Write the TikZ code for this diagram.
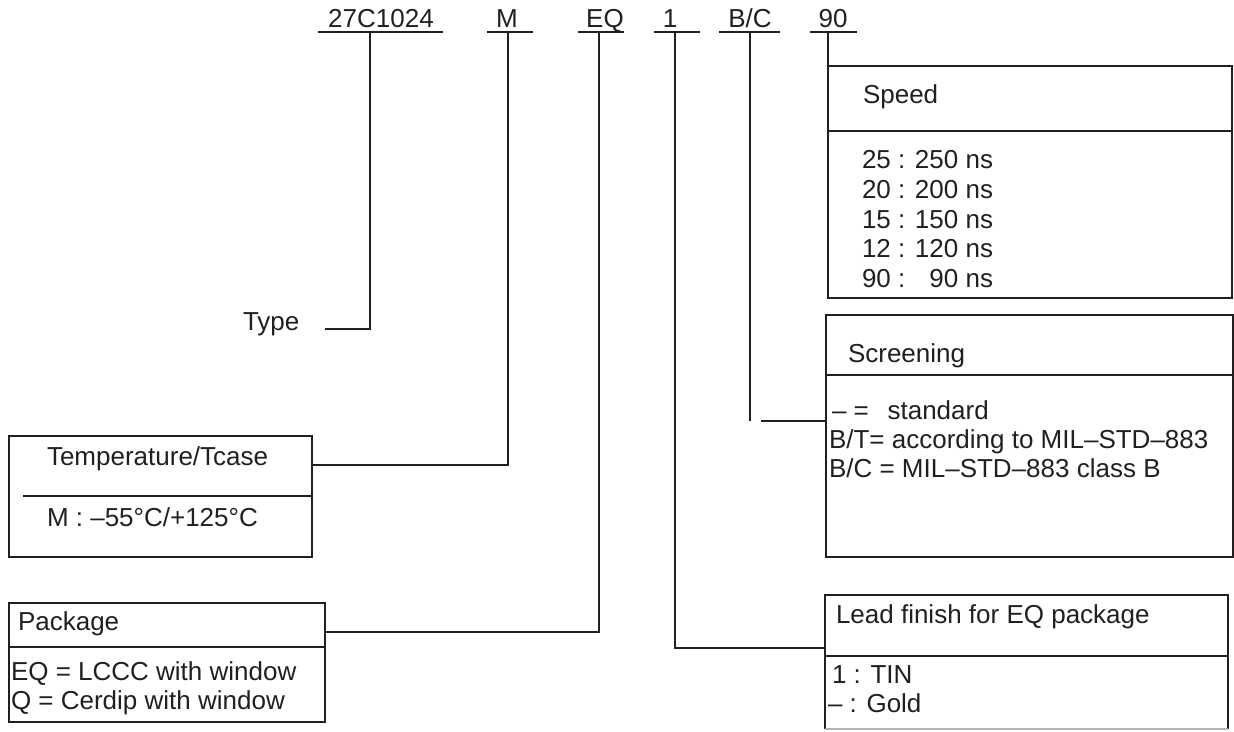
\documentclass[tikz,border=0pt]{standalone}
\usepackage{fontspec}
\setmainfont{Liberation Sans}
\definecolor{ink}{HTML}{231F20}
\tikzset{
  txt/.style={inner sep=0pt, outer sep=0pt, anchor=base west, text=ink, font=\fontsize{26}{30}\selectfont},
  lbl/.style={inner sep=0pt, outer sep=0pt, anchor=base, text=ink, font=\fontsize{26}{30}\selectfont},
  box/.style={draw=ink, line width=1.8pt, inner sep=0pt, outer sep=0pt, anchor=north west},
  ln/.style={draw=ink, line width=1.8pt},
}
\begin{document}
\begin{tikzpicture}[x=1pt, y=-1pt]
\useasboundingbox (0,0) rectangle (1234,731);

% ---- code labels on top ----
\node[lbl] (l27) at (381,27) {27C1024};
\node[lbl] (lM)  at (507,27) {M};
\node[lbl] (lEQ) at (605,27) {EQ};
\node[lbl] (l1)  at (670,27) {1};
\node[lbl] (lBC) at (750,27) {B/C};
\node[lbl] (l90) at (833,27) {90};

\coordinate (c27) at (370,32);
\coordinate (cM)  at (508,32);
\coordinate (cEQ) at (599,32);
\coordinate (c1)  at (675,32);
\coordinate (cBC) at (750,32);
\coordinate (c90) at (828,32);

\draw[ln] (318,32) -- (443,32);
\draw[ln] (487,32) -- (533,32);
\draw[ln] (578,32) -- (624,32);
\draw[ln] (654,32) -- (700,32);
\draw[ln] (719,32) -- (780,32);
\draw[ln] (810,32) -- (857,32);

% ---- Speed box ----
\node[box, minimum width=404pt, minimum height=232pt] (speed) at (828,66) {};
\draw[ln] (speed.west |- 0,131) -- (speed.east |- 0,131);
\node[txt] (speedh) at (863,103) {Speed};
\node[txt] (sp1) at (862,168) {25 : 250 ns};
\node[txt] (sp2) at (862,198) {20 : 200 ns};
\node[txt] (sp3) at (862,228) {15 : 150 ns};
\node[txt] (sp4) at (862,257) {12 : 120 ns};
\node[txt] (sp5) at (862,287) {90 : \phantom{0}90 ns};
\draw[ln] (c90) -- (speed.north west);

% ---- Type ----
\node[txt] (type) at (243,330) {Type};
\coordinate (typeend) at (325,329);
\draw[ln] (c27) |- (typeend);

% ---- Screening box ----
\node[box, minimum width=407pt, minimum height=242pt] (scr) at (826,315) {};
\draw[ln] (scr.west |- 0,375) -- (scr.east |- 0,375);
\node[txt] (scrh) at (848,362) {Screening};
\node[txt] (scr1) at (832,419) {– =\hspace{18.7pt}standard};
\node[txt] (scr2) at (829,448) {B/T= according to MIL–STD–883};
\node[txt] (scr3) at (829,477) {B/C = MIL–STD–883 class B};
\coordinate (bcend) at (750,421);
\coordinate (scrgap) at (761,421);
\draw[ln] (cBC) -- (bcend);
\draw[ln] (scrgap) -- (scr.west |- scrgap);

% ---- Temperature box ----
\node[box, minimum width=303pt, minimum height=121pt] (temp) at (9,436) {};
\draw[ln] (23,496) -- (temp.east |- 0,496);
\node[txt] (temph) at (47,465) {Temperature/Tcase};
\node[txt] (temp1) at (47,526) {M : –55°C/+125°C};
\draw[ln] (temp.east |- 0,465) -| (cM);

% ---- Package box ----
\node[box, minimum width=316pt, minimum height=119pt] (pack) at (9,603) {};
\draw[ln] (pack.west |- 0,647) -- (pack.east |- 0,647);
\node[txt] (packh) at (18,630) {Package};
\node[txt] (pack1) at (11,680) {EQ = LCCC with window};
\node[txt] (pack2) at (11,709) {Q = Cerdip with window};
\draw[ln] (pack.east |- 0,632) -| (cEQ);

% ---- Lead finish box ----
\coordinate (leadbl) at (825,729);
\coordinate (leadbr) at (1228,729);
\draw[ln] (leadbl) -- (825,595) -- (1228,595) -- (leadbr);
\draw[draw=gray!60, line width=1.2pt] (leadbl) -- (leadbr);
\draw[ln] (825,656) -- (1228,656);
\node[txt] (leadh) at (836,623) {Lead finish for EQ package};
\node[txt] (lead1) at (832,683) {1 : TIN};
\node[txt] (lead2) at (828,712) {– : Gold};
\draw[ln] (825,648) -| (c1);
\end{tikzpicture}
\end{document}
